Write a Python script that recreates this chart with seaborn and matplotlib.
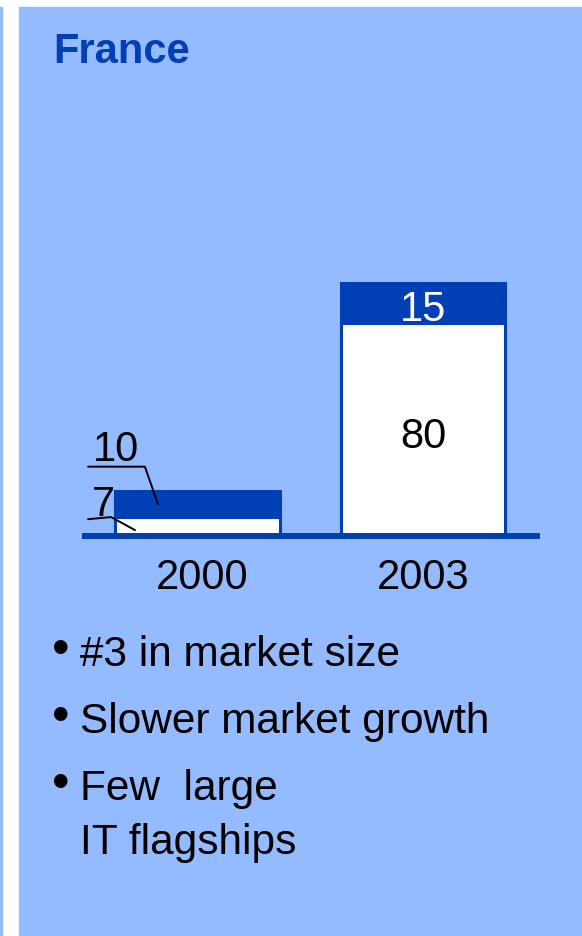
import matplotlib
matplotlib.use('Agg')
import matplotlib.pyplot as plt
from matplotlib.patches import Rectangle
from matplotlib.transforms import ScaledTranslation
import seaborn as sns
import pandas as pd

# data
years = ['2000', '2003']
bottom_part = [7, 80]
top_part = [10, 15]
title = 'France'
bullets = ['#3 in market size', 'Slower market growth', 'Few  large\nIT flagships']

dark = '#0040B4'
light = '#94BBFF'

sns.set_style('white')
plt.rcParams['font.family'] = ['Liberation Sans', 'DejaVu Sans']
plt.rcParams['text.color'] = 'black'
plt.rcParams['xtick.color'] = 'black'

df = pd.DataFrame({'year': years, 'bottom': bottom_part, 'top': top_part})
df['total'] = df['bottom'] + df['top']

W, H = 582, 936
fig = plt.figure(figsize=(W / 100, H / 100), dpi=100)
fig.patch.set_facecolor('white')

# panel background
fig.patches.append(Rectangle((19 / W, 0), 1 - 19 / W, 1 - 7 / H,
                             transform=fig.transFigure, color=light, zorder=-5))
fig.patches.append(Rectangle((0, 0), 2 / W, 1 - 7 / H,
                             transform=fig.transFigure, color=light, zorder=-5))

ax = fig.add_axes([82 / W, (H - 536) / H, 458 / W, 336 / H])
ax.set_facecolor('none')

# stacked bars
sns.barplot(data=df, x='year', y='total', color=dark, saturation=1, width=0.73,
            edgecolor=dark, linewidth=2.2, ax=ax)
sns.barplot(data=df, x='year', y='bottom', color='white', saturation=1, width=0.73,
            edgecolor=dark, linewidth=2.2, ax=ax)

ax.set_xlim(-0.512, 1.519)
ax.set_ylim(0, 126)
ax.axhline(0, color=dark, lw=4.3, clip_on=False, zorder=5, solid_capstyle='butt')
for s in ax.spines.values():
    s.set_visible(False)
ax.set_yticks([])
ax.set_xlabel('')
ax.set_ylabel('')
ax.tick_params(axis='x', length=0, labelsize=30, pad=16, labelcolor='black')
# first year label sits a little right of its bar
lbl = ax.get_xticklabels()[0]
lbl.set_transform(lbl.get_transform() + ScaledTranslation(5 / 100, 0, fig.dpi_scale_trans))

# values inside the 2003 bar
ax.annotate(str(top_part[1]), xy=(1, bottom_part[1] + top_part[1] / 2),
            xytext=(0, -13), textcoords='offset points',
            ha='center', va='baseline', fontsize=30, color='white')
ax.annotate(str(bottom_part[1]), xy=(1, bottom_part[1] / 2),
            xytext=(0, -13.5), textcoords='offset points',
            ha='center', va='baseline', fontsize=30, color='black')

# leader labels for the 2000 bar
ax.plot([-0.485, -0.233, -0.175], [26.0, 26.0, 11.9], color='black', lw=1.4, clip_on=False)
ax.text(-0.463, 28.3, str(top_part[0]), ha='left', va='baseline', fontsize=30, color='black')
ax.plot([-0.485, -0.383, -0.277], [6.3, 7.1, 2.2], color='black', lw=1.4, clip_on=False)
ax.text(-0.468, 7.6, str(bottom_part[0]), ha='left', va='baseline', fontsize=30, color='black')

# title
fig.text(53 / W, 1 - 63 / H, title, fontsize=30, fontweight='bold', color=dark,
         ha='left', va='baseline')

# bullets
ys = [666, 733, 800]
for y, b in zip(ys, bullets):
    fig.text(61 / W, 1 - (y - 2) / H, '\u2022', fontsize=36, ha='center', va='baseline',
             color='black')
    lines = b.split('\n')
    for k, ln in enumerate(lines):
        fig.text(80 / W, 1 - (y + 54 * k) / H, ln, fontsize=30.5, ha='left', va='baseline',
                 color='black')

fig.savefig('out.png', dpi=100, facecolor=fig.get_facecolor())
